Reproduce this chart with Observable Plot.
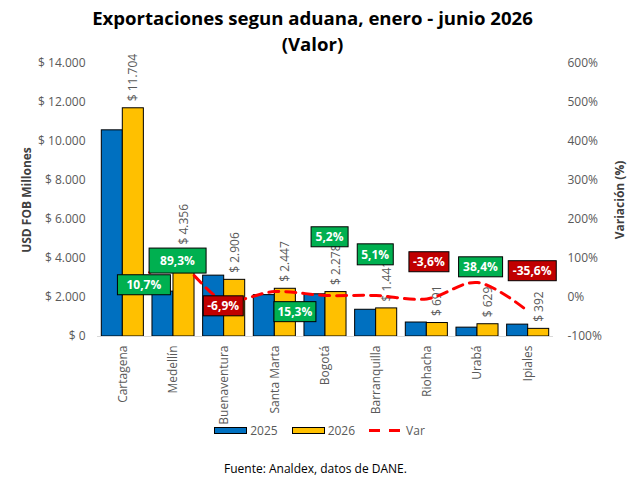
<!DOCTYPE html>
<html>
<head>
<meta charset="utf-8">
<script src="https://cdn.jsdelivr.net/npm/d3@7"></script>
<script src="https://cdn.jsdelivr.net/npm/@observablehq/plot@0.6"></script>
<style>
  body { margin: 0; background: #fff; font-family: "Open Sans", sans-serif; }
  #wrap { width: 639px; }
  .title { text-align: center; font-weight: 700; font-size: 18.6px; line-height: 26px;
           padding-top: 5px; padding-right: 14px; height: 43px; color: #000; }
  #chart svg { overflow: visible; }
  .legend { display: flex; justify-content: center; align-items: center; height: 14px;
            font-size: 12px; color: #595959; }
  .legend .item { display: flex; align-items: center; margin: 0 7px; }
  .legend .sw { width: 31px; height: 5px; border: 1px solid #000; margin-right: 3px; }
  .source { text-align: center; font-size: 12px; line-height: 16px; margin-top: 24px;
            padding-right: 8px; color: #000; }
</style>
</head>
<body>
<div id="wrap">
  <div class="title">Exportaciones segun aduana, enero - junio 2026<br>(Valor)</div>
  <div id="chart"></div>
  <div class="legend" id="legend"></div>
  <div class="source">Fuente: Analdex, datos de DANE.</div>
</div>
<script>
// datos (USD FOB millones)
const aduanas = ["Cartagena", "Medellín", "Buenaventura", "Santa Marta", "Bogotá",
                 "Barranquilla", "Riohacha", "Urabá", "Ipiales"];
const v2025 = [10573, 2301, 3121, 2122, 2165, 1371, 717, 454, 609];
const v2026 = [11704, 4356, 2906, 2447, 2278, 1441, 691, 629, 392];
const varPct = [10.7, 89.3, -6.9, 15.3, 5.2, 5.1, -3.6, 38.4, -35.6];

const usdTicks = [0, 2000, 4000, 6000, 8000, 10000, 12000, 14000];
const pctTicks = [-100, 0, 100, 200, 300, 400, 500, 600];

// where the variation boxes sit (in % of the right axis), and their nudges/sizes
const labelPct = [31, 93, -23, -38, 154, 109, 90, 77, 67];
const labelDx = [21, 4, -1, 20, 4, -1, 2, 3, 4];
const boxW = [53, 57, 40, 42, 37, 36, 40, 44, 48];
const boxH = [20, 25, 20, 20, 20, 21, 20, 20, 20];

const series = [
  {name: "2025", color: "#0070C0"},
  {name: "2026", color: "#FFC000"}
];

// right axis (-100%..600%) mapped onto left axis (0..14000)
const toUsd = (p) => (p + 100) * 20;
const fmtUsd = (d) => "$ " + d3.format(",")(d).replace(/,/g, ".");
const fmtPct = (d) => d.toFixed(1).replace(".", ",") + "%";

const rows = aduanas.map((a, i) => ({
  aduana: a, v2025: v2025[i], v2026: v2026[i], var: varPct[i], labelY: labelPct[i]
}));

const bw = 21; // half band

const chart = Plot.plot({
  width: 639,
  height: 375,
  marginTop: 15,
  marginBottom: 87,
  marginLeft: 97,
  marginRight: 86,
  style: {background: "transparent", fontFamily: "Open Sans", fontSize: "12px"},
  x: {type: "band", domain: aduanas, paddingInner: 0.17, paddingOuter: 0.085,
      round: false, axis: null},
  y: {domain: [0, 14000], axis: null},
  marks: [
    Plot.barY(rows, {x: "aduana", y: "v2025", fill: series[0].color, stroke: "#000",
                     strokeWidth: 1, insetRight: bw}),
    Plot.barY(rows, {x: "aduana", y: "v2026", fill: series[1].color, stroke: "#000",
                     strokeWidth: 1, insetLeft: bw}),
    Plot.ruleY([0], {stroke: "#d9d9d9"}),
    Plot.axisY({ticks: usdTicks, tickFormat: fmtUsd, tickSize: 0, tickPadding: 12,
                color: "#595959", fontSize: 12, label: null}),
    Plot.axisY({anchor: "right", ticks: pctTicks.map(toUsd),
                tickFormat: (d) => (d / 20 - 100) + "%", tickSize: 0, tickPadding: 14,
                color: "#595959", fontSize: 12, label: null}),
    Plot.axisX({tickRotate: -90, tickSize: 0, tickPadding: 9, color: "#595959",
                fontSize: 12, label: null}),
    Plot.text(["USD FOB Millones"], {frameAnchor: "left", dx: -70, rotate: -90,
              textAnchor: "middle", fontWeight: "bold", fontSize: 12, fill: "#404040"}),
    Plot.text(["Variación (%)"], {frameAnchor: "right", dx: 67, rotate: -90,
              textAnchor: "middle", fontWeight: "bold", fontSize: 12, fill: "#404040"}),
    Plot.text(rows, {x: "aduana", y: "v2026", text: (d) => fmtUsd(d.v2026), rotate: -90,
              textAnchor: "start", dx: 10.5, dy: -7, fill: "#595959", fontSize: 12}),
    Plot.line(rows, {x: "aduana", y: (d) => toUsd(d.var), stroke: "#FF0000", strokeWidth: 3,
              strokeDasharray: "10,7", curve: "catmull-rom"}),
    Plot.text(rows, {x: "aduana", y: (d) => toUsd(d.labelY), text: (d) => fmtPct(d.var),
              fill: "white", fontWeight: "bold", fontSize: 12})
  ]
});

document.getElementById("chart").append(chart);

// boxes behind the variation labels (the last text mark)
const ns = "http://www.w3.org/2000/svg";
const textGroups = chart.querySelectorAll('g[aria-label="text"]');
const g = textGroups[textGroups.length - 1];
g.querySelectorAll("text").forEach((t, i) => {
  const b = t.getBBox();
  const tr = `translate(${labelDx[i]},0) ` + (t.getAttribute("transform") || "");
  const r = document.createElementNS(ns, "rect");
  const cx = b.x + b.width / 2, cy = b.y + b.height / 2;
  r.setAttribute("x", cx - boxW[i] / 2);
  r.setAttribute("y", cy - boxH[i] / 2);
  r.setAttribute("width", boxW[i]);
  r.setAttribute("height", boxH[i]);
  r.setAttribute("fill", varPct[i] >= 0 ? "#00B050" : "#C00000");
  r.setAttribute("stroke", "#000");
  r.setAttribute("stroke-width", 1);
  r.setAttribute("transform", tr);
  t.setAttribute("transform", tr);
  g.insertBefore(r, t);
});

// legend
const legend = document.getElementById("legend");
series.forEach((s) => {
  const it = document.createElement("div");
  it.className = "item";
  it.innerHTML = `<span class="sw" style="background:${s.color}"></span><span>${s.name}</span>`;
  legend.append(it);
});
const lv = document.createElement("div");
lv.className = "item";
lv.innerHTML = `<svg width="33" height="7" style="margin-right:4px"><line x1="0" x2="33" y1="3.5" y2="3.5" stroke="#FF0000" stroke-width="3" stroke-dasharray="11,9"></line></svg><span>Var</span>`;
legend.append(lv);
</script>
</body>
</html>
